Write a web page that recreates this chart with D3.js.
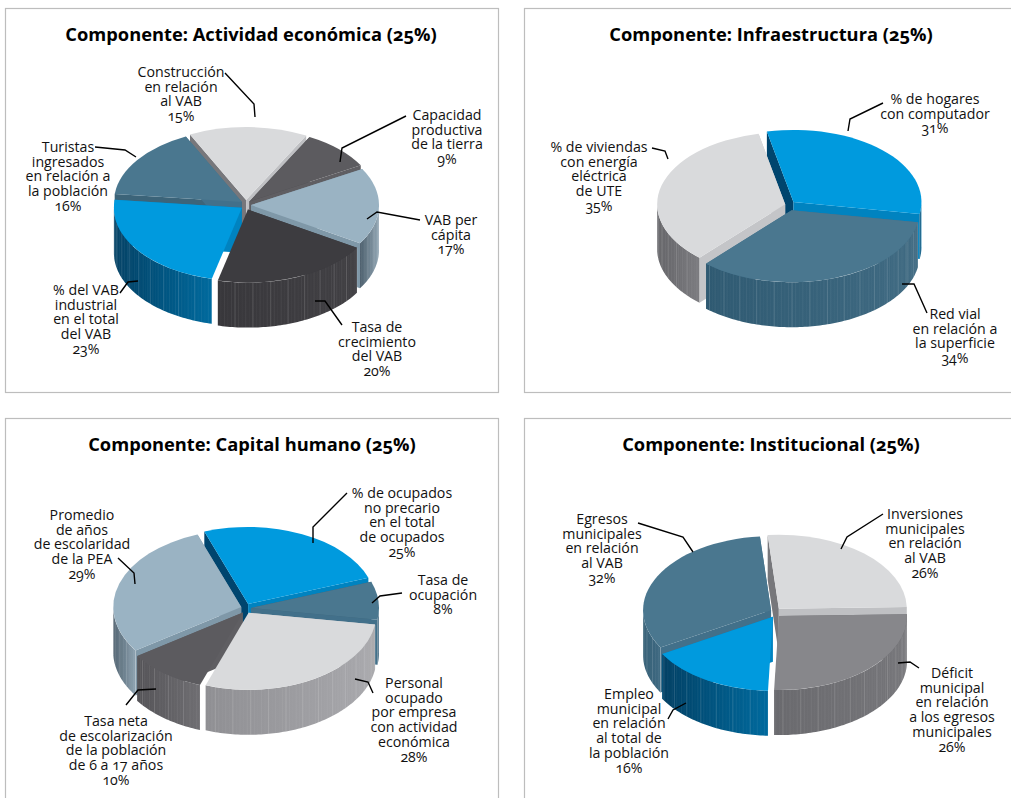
<!DOCTYPE html>
<html>
<head>
<meta charset="utf-8">
<script src="https://cdn.jsdelivr.net/npm/d3@7"></script>
<style>
  body { margin: 0; background: #fff; overflow: hidden; }
  text { font-family: "Open Sans", "Noto Sans", sans-serif; fill: #111; font-feature-settings: "onum"; }
  .title { font-size: 18.3px; font-weight: 700; text-anchor: middle; fill: #000; }
  .label { font-size: 14.2px; text-anchor: middle; }
</style>
</head>
<body>
<script>
const titles = [
    'Componente: Actividad económica (25%)',
    'Componente: Infraestructura (25%)',
    'Componente: Capital humano (25%)',
    'Componente: Institucional (25%)'
];

const names1 = [
    ['Capacidad', 'productiva', 'de la tierra'],
    ['VAB per', 'cápita'],
    ['Tasa de', 'crecimiento', 'del VAB'],
    ['% del VAB', 'industrial', 'en el total', 'del VAB'],
    ['Turistas', 'ingresados', 'en relación a', 'la población'],
    ['Construcción', 'en relación', 'al VAB']
];
const values1 = [9, 17, 20, 23, 16, 15];

const names2 = [
    ['% de hogares', 'con computador'],
    ['Red vial', 'en relación a', 'la superficie'],
    ['% de viviendas', 'con energía', 'eléctrica', 'de UTE']
];
const values2 = [31, 34, 35];

const names3 = [
    ['% de ocupados', 'no precario', 'en el total', 'de ocupados'],
    ['Tasa de', 'ocupación'],
    ['Personal', 'ocupado', 'por empresa', 'con actividad', 'económica'],
    ['Tasa neta', 'de escolarización', 'de la población', 'de 6 a 17 años'],
    ['Promedio', 'de años', 'de escolaridad', 'de la PEA']
];
const values3 = [25, 8, 28, 10, 29];

const names4 = [
    ['Inversiones', 'municipales', 'en relación', 'al VAB'],
    ['Déficit', 'municipal', 'en relación', 'a los egresos', 'municipales'],
    ['Empleo', 'municipal', 'en relación', 'al total de', 'la población'],
    ['Egresos', 'municipales', 'en relación', 'al VAB']
];
const values4 = [26, 26, 16, 32];

// slice colours: top face, dark cut, light cut, wall dark end, wall light end
const blue = ['#009ade', '#00456e', '#0083c0', '#003f63', '#006a9e'];
const steel = ['#4a778f', '#3c6479', '#42708a', '#2f5a72', '#3f6a82'];
const ltGrey = ['#d9dadc', '#77777b', '#bfc0c3', '#8f8f93', '#a8a8ac'];
const ltGreyDark = ['#d9dadc', '#77777b', '#c4c5c8', '#626266', '#7c7c80'];
const dkGrey = ['#5c5b5f', '#4f4e52', '#5f5e62', '#545357', '#6f6e72'];
const charcoal = ['#3d3c40', '#38373b', '#3d3c40', '#38373b', '#414044'];
const ltSteel = ['#9ab3c3', '#7f98a8', '#7f98a8', '#4c5f6d', '#8ea3b1'];
const midGrey = ['#87878b', '#6e6e72', '#6e6e72', '#6a6a6e', '#757579'];

const colors1 = [dkGrey, ltSteel, charcoal, blue, steel, ltGrey];
const colors2 = [blue, steel, ltGreyDark];
const colors3 = [blue, steel, ltGrey, dkGrey, ltSteel];
const colors4 = [ltGrey, midGrey, blue, steel];

const frames = [[5.5, 8.5, 493, 384], [524.5, 8.5, 500, 384], [5.5, 418.5, 493, 400], [524.5, 418.5, 500, 400]];
const titleSpots = [[251, 41], [771, 41], [252, 451], [771, 451]];
const centers = [[246, 205], [790, 205.5], [246, 608.5], [775.5, 612.5]];
const startDegrees = [28, -12, -20, -5];
const radiiY = [73, 72, 77, 74];

// where each label sits and how its leader runs, same order as the slices
const labelSpots1 = [[447, 120], [451, 225], [377, 332], [86, 295], [68, 152], [181, 77]];
const leaders1 = [
    [[406, 116], [342, 148], [340, 162]],
    [[420, 220], [377, 212], [367, 219]],
    [[342, 325], [325, 301], [315, 301]],
    [[120, 293], [128, 282], [138, 281]],
    [[95, 147], [125, 150], [136, 157]],
    [[225, 73], [254, 104], [255, 117]]
];
const labelSpots2 = [[935, 104], [955, 319], [599, 152]];
const leaders2 = [
    [[883, 103], [850, 119], [848, 131]],
    [[927, 313], [914, 284], [902, 284]],
    [[652, 148], [665, 151], [668, 159]]
];
const labelSpots3 = [[402, 498], [443, 585], [414, 688], [116, 726], [82, 520]];
const leaders3 = [
    [[347, 493], [313, 527], [313, 543]],
    [[402, 593], [380, 596], [372, 603]],
    [[373, 693], [368, 682], [355, 679]],
    [[126, 705], [138, 690], [156, 689]],
    [[118, 558], [134, 573], [135, 584]]
];
const labelSpots4 = [[925, 519], [952, 678], [629, 699], [602, 524]];
const leaders4 = [
    [[883, 514], [847, 537], [841, 549]],
    [[919, 668], [910, 662], [898, 663]],
    [[668, 719], [673, 710], [686, 703]],
    [[638, 523], [683, 537], [693, 552]]
];

const charts = [
    {names: names1, values: values1, colors: colors1, spots: labelSpots1, leaders: leaders1},
    {names: names2, values: values2, colors: colors2, spots: labelSpots2, leaders: leaders2},
    {names: names3, values: values3, colors: colors3, spots: labelSpots3, leaders: leaders3},
    {names: names4, values: values4, colors: colors4, spots: labelSpots4, leaders: leaders4}
];

const width = 1011;
const height = 798;
const rx = 128;
const depth = 45;
const explodeX = 5;
const explodeY = 5;
const lineStep = 14.7;
const TAU = 2 * Math.PI;

const svg = d3.select('body').append('svg')
    .attr('width', width)
    .attr('height', height);

const defs = svg.append('defs');
const polyline = d3.line();
const arcGen = d3.arc().innerRadius(0).outerRadius(rx);

charts.forEach((chart, c) => {
    const frame = frames[c];
    const ry = radiiY[c];
    const g = svg.append('g');

    g.append('rect')
        .attr('x', frame[0])
        .attr('y', frame[1])
        .attr('width', frame[2])
        .attr('height', frame[3])
        .attr('fill', 'none')
        .attr('stroke', '#bdbdbd')
        .attr('stroke-width', 1.2);

    g.append('text')
        .attr('class', 'title')
        .attr('x', titleSpots[c][0])
        .attr('y', titleSpots[c][1])
        .text(titles[c]);

    const start = startDegrees[c] * Math.PI / 180;
    const pie = d3.pie().sort(null).startAngle(start).endAngle(start + TAU);
    const slices = pie(chart.values).map((d, i) => ({...d, i}));

    // back slices are painted first
    const order = slices.slice().sort((a, b) => {
        return Math.cos((b.startAngle + b.endAngle) / 2) - Math.cos((a.startAngle + a.endAngle) / 2);
    });

    order.forEach(d => {
        const col = chart.colors[d.i];
        const mid = (d.startAngle + d.endAngle) / 2;
        const cx = centers[c][0] + Math.sin(mid) * explodeX;
        const cy = centers[c][1] - Math.cos(mid) * explodeY;
        const rim = a => [cx + Math.sin(a) * rx, cy - Math.cos(a) * ry];
        const slice = g.append('g');

        // cut faces, those pointing almost straight at the viewer stay edge-on
        [d.startAngle, d.endAngle].forEach((a, k) => {
            const norm = ((a % TAU) + TAU) % TAU;
            if (Math.abs(norm - Math.PI) < 0.35) return;
            const p = rim(a);
            const dark = k === 0 && Math.cos(a) > 0;
            slice.append('path')
                .attr('d', polyline([[cx, cy], p, [p[0], p[1] + depth], [cx, cy + depth]]) + 'Z')
                .attr('fill', dark ? col[1] : col[2]);
        });

        // outer wall, only the part that faces the viewer
        const ranges = [
            [Math.max(d.startAngle, Math.PI / 2), Math.min(d.endAngle, 3 * Math.PI / 2)],
            [Math.max(d.startAngle, Math.PI / 2 + TAU), Math.min(d.endAngle, 3 * Math.PI / 2 + TAU)]
        ].filter(r => r[1] > r[0]);

        ranges.forEach((r, k) => {
            const angles = d3.range(r[0], r[1], 0.02).concat([r[1]]);
            const upper = angles.map(rim);
            const lower = upper.map(p => [p[0], p[1] + depth]).reverse();
            const gradId = `wall-${c}-${d.i}-${k}`;
            const grad = defs.append('linearGradient')
                .attr('id', gradId)
                .attr('gradientUnits', 'userSpaceOnUse')
                .attr('x1', d3.min(upper, p => p[0]))
                .attr('x2', d3.max(upper, p => p[0]))
                .attr('y1', 0)
                .attr('y2', 0);
            grad.append('stop').attr('offset', 0).attr('stop-color', col[3]);
            grad.append('stop').attr('offset', 1).attr('stop-color', col[4]);

            slice.append('path')
                .attr('d', polyline(upper.concat(lower)) + 'Z')
                .attr('fill', `url(#${gradId})`);

            // thin vertical streaks
            d3.range(r[0], r[1], 0.028).forEach((a, j) => {
                const p = rim(a);
                slice.append('line')
                    .attr('x1', p[0])
                    .attr('y1', p[1])
                    .attr('x2', p[0])
                    .attr('y2', p[1] + depth)
                    .attr('stroke', '#fff')
                    .attr('stroke-width', 0.6)
                    .attr('stroke-opacity', j % 5 === 0 ? 0.26 : (j % 2 ? 0.1 : 0.05));
            });
        });

        // top face: a d3 arc squashed into the tilted plane
        slice.append('path')
            .attr('d', arcGen(d))
            .attr('transform', `translate(${cx},${cy}) scale(1,${ry / rx})`)
            .attr('fill', col[0]);
    });

    chart.leaders.forEach(points => {
        g.append('path')
            .attr('d', polyline(points))
            .attr('fill', 'none')
            .attr('stroke', '#000')
            .attr('stroke-width', 1.4);
    });

    chart.names.forEach((lines, i) => {
        const label = g.append('text')
            .attr('class', 'label')
            .attr('x', chart.spots[i][0])
            .attr('y', chart.spots[i][1]);
        lines.concat([`${chart.values[i]}%`]).forEach((line, j) => {
            label.append('tspan')
                .attr('x', chart.spots[i][0])
                .attr('dy', j === 0 ? 0 : lineStep)
                .text(line);
        });
    });
});
</script>
</body>
</html>
